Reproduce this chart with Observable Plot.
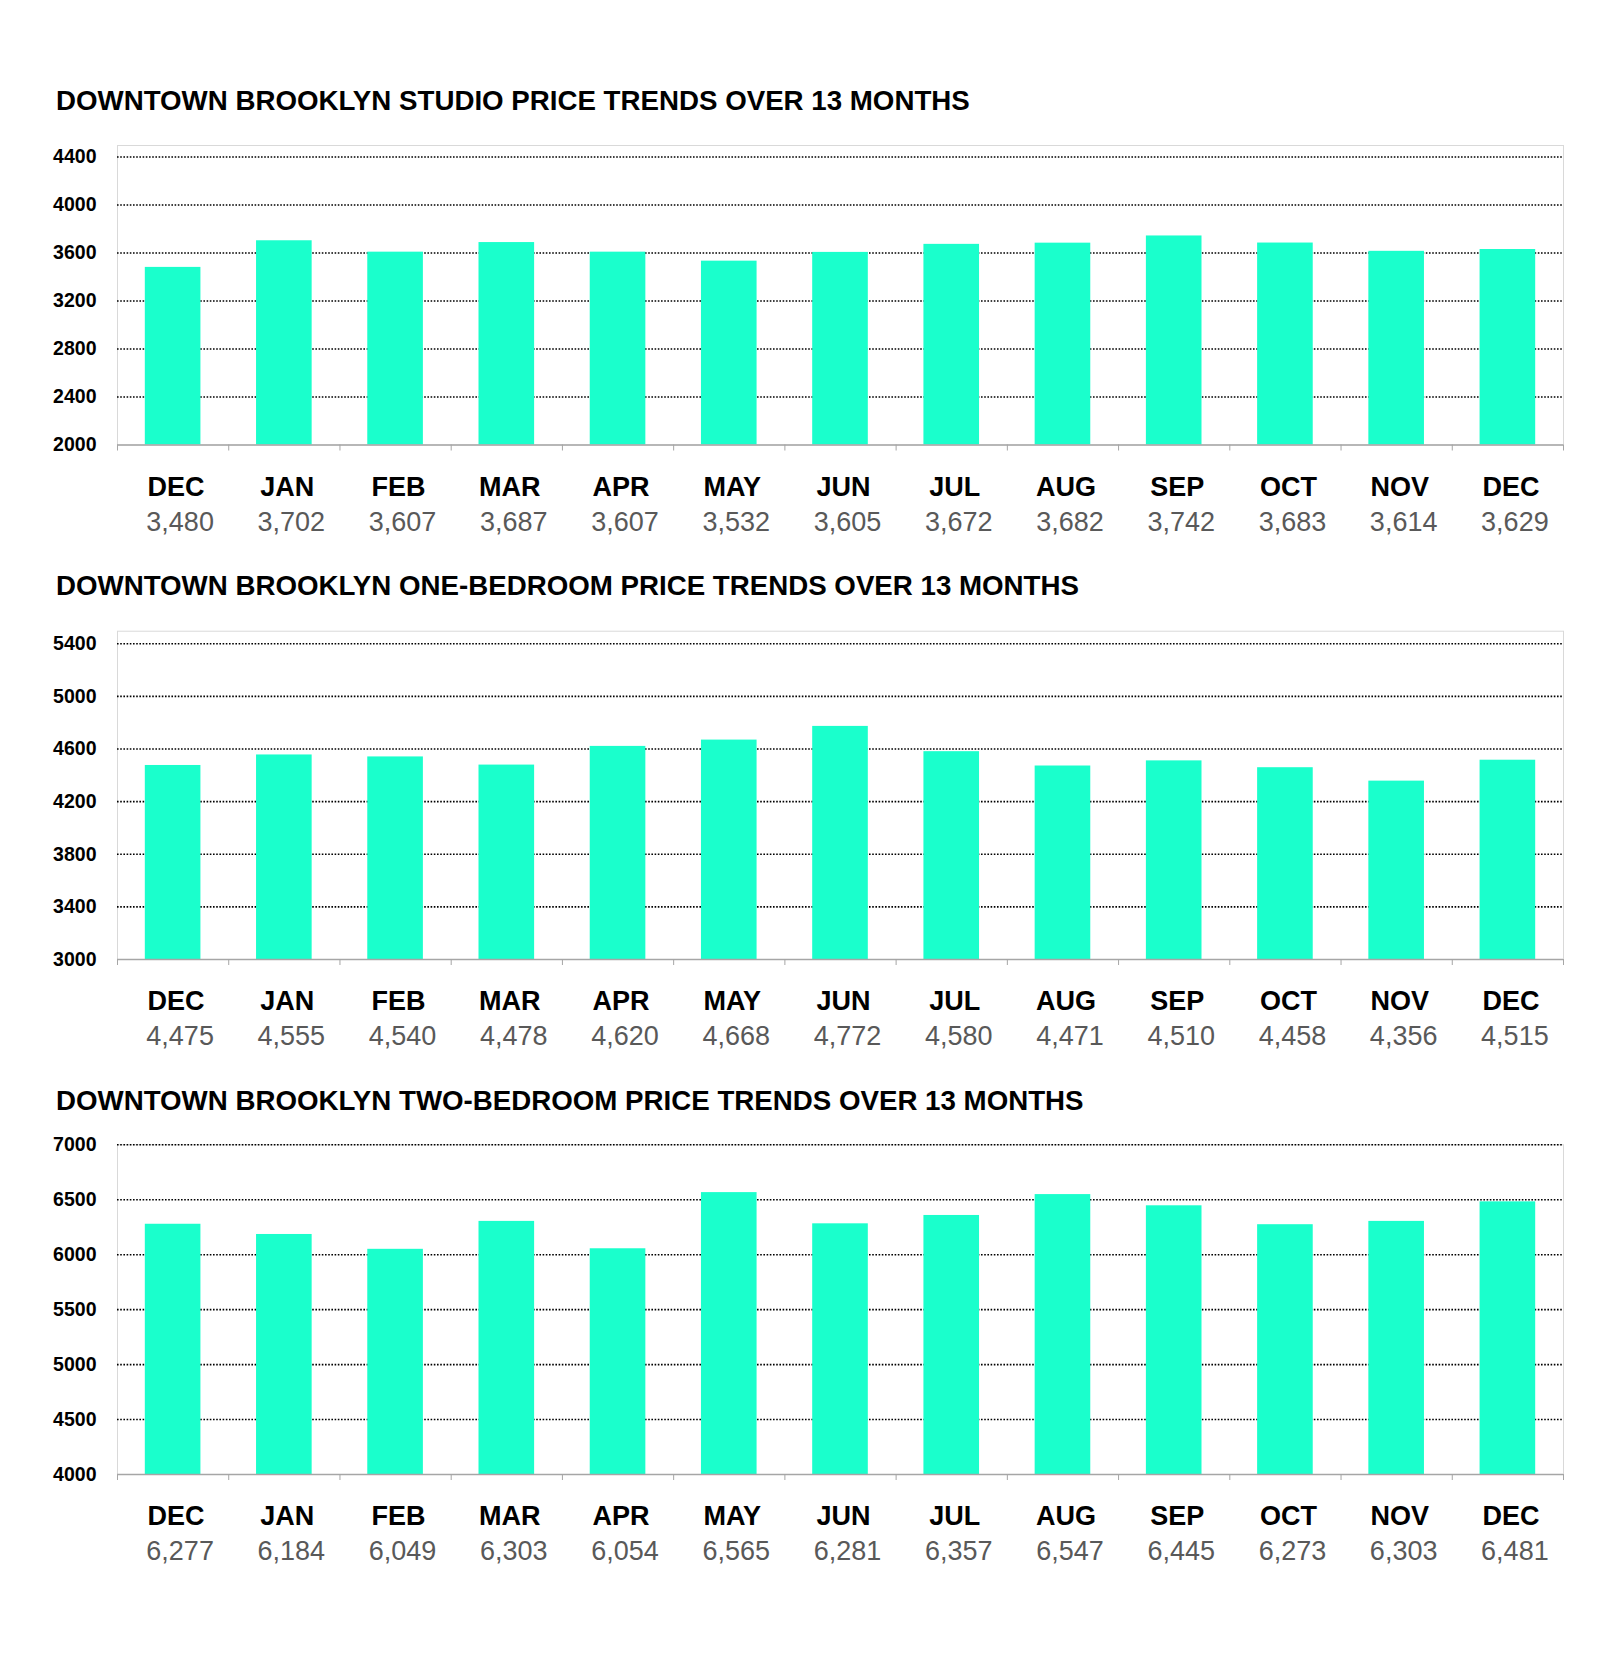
<!DOCTYPE html>
<html><head><meta charset="utf-8">
<script src="https://cdn.jsdelivr.net/npm/d3@7"></script>
<script src="https://cdn.jsdelivr.net/npm/@observablehq/plot@0.6"></script>
<style>
body{margin:0;background:#fff;}
#root{position:relative;width:1600px;height:1668px;background:#fff;}
.title{position:absolute;left:56px;font:bold 27.7px/1 "Liberation Sans",Arial,sans-serif;color:#000;white-space:nowrap;}
.chart{position:absolute;left:0;}
</style></head><body><div id="root"></div>
<script>
const months = ["DEC","JAN","FEB","MAR","APR","MAY","JUN","JUL","AUG","SEP","OCT","NOV","DEC"];
const studioValues = [3480,3702,3607,3687,3607,3532,3605,3672,3682,3742,3683,3614,3629];
const oneBedValues = [4475,4555,4540,4478,4620,4668,4772,4580,4471,4510,4458,4356,4515];
const twoBedValues = [6277,6184,6049,6303,6054,6565,6281,6357,6547,6445,6273,6303,6481];
const studioTicks = [2000,2400,2800,3200,3600,4000,4400];
const oneBedTicks = [3000,3400,3800,4200,4600,5000,5400];
const twoBedTicks = [4000,4500,5000,5500,6000,6500,7000];
const titles = [
  "DOWNTOWN BROOKLYN STUDIO PRICE TRENDS OVER 13 MONTHS",
  "DOWNTOWN BROOKLYN ONE-BEDROOM PRICE TRENDS OVER 13 MONTHS",
  "DOWNTOWN BROOKLYN TWO-BEDROOM PRICE TRENDS OVER 13 MONTHS"
];

const WIDTH = 1600, ML = 117, MR = 37;
const W = (WIDTH - ML - MR) / months.length;
const FONT = '"Liberation Sans", Arial, sans-serif';
const BAR = "#1affcc";
const fmt = d3.format(",");

function chart(values, ticks, cfg) {
  const data = values.map((value, i) => ({i, month: months[i], value}));
  return Plot.plot({
    width: WIDTH, height: cfg.height,
    marginLeft: ML, marginRight: MR, marginTop: cfg.marginTop, marginBottom: cfg.marginBottom,
    style: {fontFamily: FONT, background: "#fff", overflow: "visible"},
    x: {domain: [0, months.length], axis: null},
    y: {domain: [ticks[0], ticks[ticks.length - 1]], axis: null},
    marks: [
      Plot.frame({stroke: "#d9d9d9", insetTop: cfg.insetTop}),
      Plot.gridY(ticks.slice(1), {stroke: "#000", strokeOpacity: 1, strokeWidth: 1.6, strokeDasharray: "1.6,1.6"}),
      Plot.rectY(data, {x: "i", interval: 1, y1: ticks[0], y2: "value", fill: BAR, insetLeft: W / 4, insetRight: W / 4}),
      Plot.ruleY([ticks[0]], {stroke: "#a6a6a6", strokeWidth: 1.5}),
      Plot.axisX(d3.range(months.length + 1), {tickSize: 6, tickFormat: () => "", stroke: "#a6a6a6", label: null}),
      Plot.axisY(ticks, {tickSize: 0, tickPadding: 21, fontSize: 19.5, fontWeight: "bold", fill: "#000", label: null, tickFormat: d => String(d)}),
      Plot.text(data, {x: "i", dx: W / 2 + 3, frameAnchor: "bottom", dy: 50.5, text: "month", fontSize: 27, fontWeight: "bold", fill: "#000"}),
      Plot.text(data, {x: "i", dx: W / 2 + 7, frameAnchor: "bottom", dy: 85.5, text: d => fmt(d.value), fontSize: 27, fill: "#595959"})
    ]
  });
}

const root = document.getElementById("root");
const configs = [
  {values: studioValues, ticks: studioTicks, titleTop: 87, top: 120, height: 440, marginTop: 36.5, marginBottom: 115.5, insetTop: -11.5},
  {values: oneBedValues, ticks: oneBedTicks, titleTop: 571.6, top: 610, height: 460, marginTop: 33.3, marginBottom: 111, insetTop: -12.6},
  {values: twoBedValues, ticks: twoBedTicks, titleTop: 1086.6, top: 1120, height: 460, marginTop: 24.3, marginBottom: 106, insetTop: 0}
];
configs.forEach((c, k) => {
  const t = document.createElement("div");
  t.className = "title";
  t.style.top = c.titleTop + "px";
  t.textContent = titles[k];
  root.appendChild(t);
  const svg = chart(c.values, c.ticks, c);
  svg.classList.add("chart");
  svg.style.top = c.top + "px";
  svg.style.position = "absolute";
  svg.style.left = "0px";
  root.appendChild(svg);
});
</script>
</body></html>
